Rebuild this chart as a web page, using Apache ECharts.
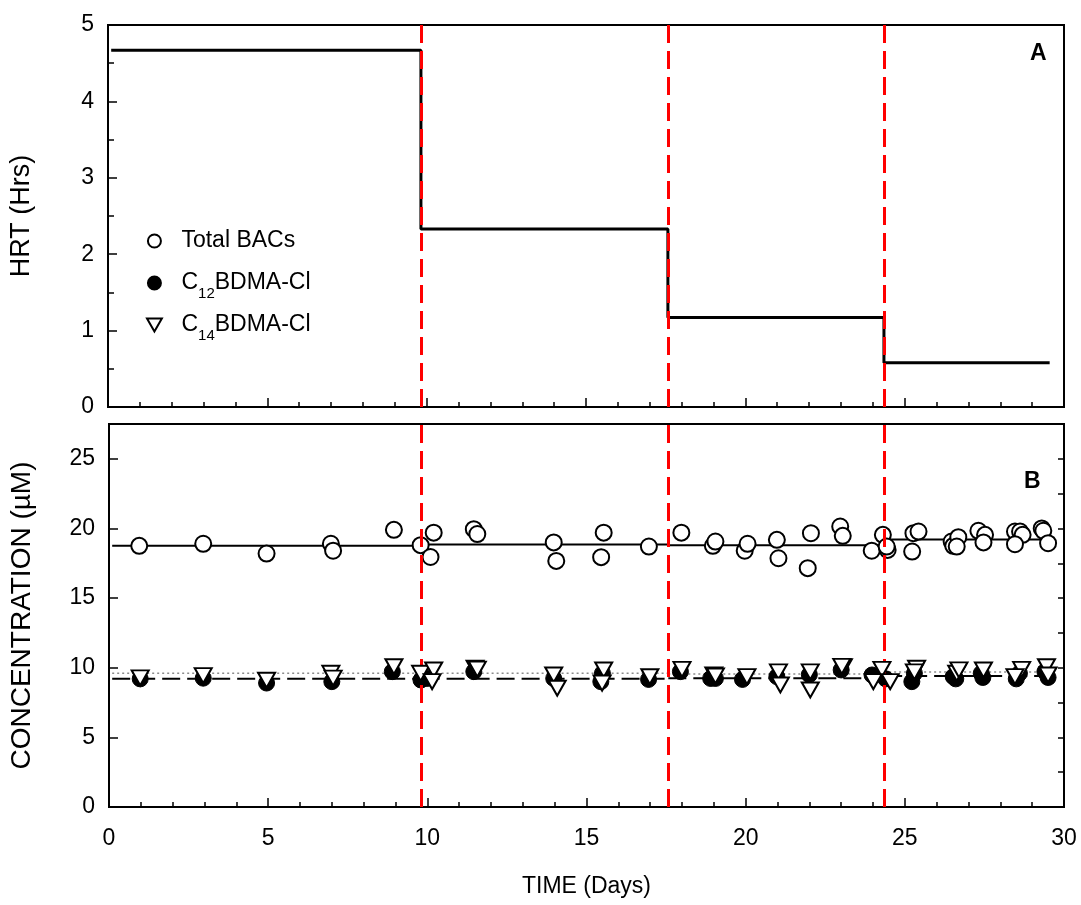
<!DOCTYPE html>
<html>
<head>
<meta charset="utf-8">
<script src="https://cdn.jsdelivr.net/npm/echarts@6/dist/echarts.min.js"></script>
<style>
  html, body { margin: 0; padding: 0; background: #fff; }
  #chart { width: 1081px; height: 905px; }
</style>
</head>
<body>
<div id="chart"></div>
<script>
// phase boundaries (days) where the HRT was changed
const phaseBreaks = [0.1, 9.82, 17.57, 24.35, 29.55]
const hrtLevels = [4.67, 2.33, 1.17, 0.58]

// fitted mean concentration in each phase
const totalFit = [18.75, 18.85, 18.8, 19.2]
const c12Fit = [9.2, 9.2, 9.25, 9.4]
const c14Fit = [9.6, 9.6, 9.55, 9.7]

// measured concentrations [day, µM]
const totalBACs = [
  [0.95, 18.75], [2.96, 18.9], [4.95, 18.2], [6.97, 18.9], [7.04, 18.4], [8.95, 19.9],
  [9.79, 18.8], [10.2, 19.7], [10.1, 17.95], [11.46, 19.95], [11.57, 19.6], [13.97, 19.0],
  [14.05, 17.67], [15.54, 19.7], [15.46, 17.94], [16.96, 18.7], [17.98, 19.7], [18.97, 18.75],
  [19.05, 19.06], [19.97, 18.4], [20.06, 18.9], [20.98, 19.18], [21.03, 17.86], [22.05, 19.66],
  [21.95, 17.15], [22.97, 20.14], [23.05, 19.47], [23.96, 18.4], [24.31, 19.54], [24.46, 18.46],
  [24.43, 18.7], [25.23, 18.34], [25.27, 19.66], [25.43, 19.78], [26.47, 19.06], [26.52, 18.75],
  [26.68, 19.37], [26.63, 18.7], [27.31, 19.83], [27.52, 19.54], [27.47, 19.0], [28.46, 19.78],
  [28.62, 19.78], [28.7, 19.54], [28.46, 18.87], [29.3, 20.0], [29.35, 19.83], [29.5, 18.94]
]
const c12 = [
  [0.98, 9.2], [2.96, 9.25], [4.95, 8.9], [7.0, 9.0], [8.9, 9.72], [9.8, 9.12], [10.0, 9.23],
  [11.46, 9.72], [13.97, 9.23], [15.45, 9.0], [15.5, 9.6], [16.95, 9.16], [17.95, 9.72],
  [18.9, 9.23], [19.05, 9.23], [19.9, 9.16], [20.98, 9.36], [22.0, 9.5], [23.0, 9.84],
  [23.97, 9.48], [24.4, 9.2], [25.22, 9.0], [25.3, 9.6], [26.52, 9.36], [26.6, 9.2],
  [27.4, 9.6], [27.45, 9.3], [28.6, 9.6], [28.5, 9.2], [29.4, 9.72], [29.5, 9.3]
]
const c14 = [
  [0.98, 9.27], [2.96, 9.43], [4.95, 9.1], [6.97, 9.6], [7.04, 9.25], [8.95, 10.07],
  [9.79, 9.6], [10.2, 9.84], [10.15, 9.0], [11.5, 9.96], [11.57, 9.9], [13.97, 9.48],
  [14.08, 8.53], [15.54, 9.84], [15.49, 8.9], [16.99, 9.35], [18.0, 9.88], [19.0, 9.48],
  [19.05, 9.41], [20.04, 9.36], [21.03, 9.7], [21.09, 8.76], [22.03, 9.7], [22.03, 8.4],
  [23.07, 10.07], [23.02, 10.1], [24.01, 9.0], [24.28, 9.88], [24.54, 9.0], [25.37, 9.96],
  [25.3, 9.7], [26.63, 9.6], [26.7, 9.85], [27.47, 9.84], [28.67, 9.88], [28.46, 9.36],
  [29.45, 10.07], [29.5, 9.48]
]

const xTicks = [0, 5, 10, 15, 20, 25, 30]

const font = 'Liberation Sans, Arial, sans-serif'
const triangle = 'path://M0,0L16,0L8,14Z'

// step line through the phases
const stepData = () => {
  const out = []
  hrtLevels.forEach((v, i) => {
    out.push([phaseBreaks[i], v], [phaseBreaks[i + 1], v])
  })
  return out
}

// separate horizontal segments, broken between phases
const segData = (levels) => {
  const out = []
  levels.forEach((v, i) => {
    out.push([phaseBreaks[i], v], [phaseBreaks[i + 1], v], [phaseBreaks[i + 1], '-'])
  })
  return out
}

const xAxisBase = (gridIndex, showLabel) => ({
  type: 'value',
  gridIndex,
  min: xTicks[0],
  max: xTicks[xTicks.length - 1],
  interval: 5,
  axisLine: { show: true, lineStyle: { color: '#000', width: 2 } },
  axisTick: { show: true, inside: true, length: 9, lineStyle: { color: '#000', width: 1.5 } },
  minorTick: { show: true, splitNumber: 5, length: 5, lineStyle: { color: '#000', width: 1.5 } },
  splitLine: { show: false },
  axisLabel: { show: showLabel, color: '#000', fontSize: 23, fontFamily: font, margin: 20 }
})

const chart = echarts.init(document.getElementById('chart'))

const redLine = {
  silent: true,
  symbol: 'none',
  label: { show: false },
  lineStyle: { color: '#ff0000', width: 3, type: [18, 8] },
  data: phaseBreaks.slice(1, 4).map((d) => ({ xAxis: d }))
}

// subscript the carbon number; pad plain names so all rows are the same height
const legendLabel = (name) => /C\d+/.test(name) ? name.replace(/C(\d+)/, 'C{sub|$1}') : name + '{sub| }'

chart.setOption({
  animation: false,
  backgroundColor: '#fff',
  title: [
    { text: 'A', left: 1025, top: 37, textStyle: { fontSize: 23, fontWeight: 'bold', fontFamily: font, color: '#000' } },
    { text: 'B', left: 1019, top: 465, textStyle: { fontSize: 23, fontWeight: 'bold', fontFamily: font, color: '#000' } }
  ],
  legend: {
    orient: 'vertical',
    left: 141,
    top: 224,
    itemWidth: 44,
    itemHeight: 13,
    itemGap: 12,
    data: ['Total BACs', 'C12BDMA-Cl', 'C14BDMA-Cl'],
    formatter: legendLabel,
    textStyle: {
      color: '#000',
      fontSize: 23,
      fontFamily: font,
      lineHeight: 24,
      rich: {
        sub: { fontSize: 15, fontFamily: font, color: '#000', verticalAlign: 'bottom', height: 3, lineHeight: 3 }
      }
    }
  },
  grid: [
    { left: 108, top: 25, right: 17, height: 382, show: true, borderColor: '#000', borderWidth: 2 },
    { left: 108, top: 424, right: 17, height: 383, show: true, borderColor: '#000', borderWidth: 2 }
  ],
  xAxis: [
    xAxisBase(0, false),
    Object.assign(xAxisBase(1, true), {
      name: 'TIME (Days)',
      nameLocation: 'middle',
      nameGap: 68,
      nameTextStyle: { color: '#000', fontSize: 23, fontFamily: font }
    })
  ],
  yAxis: [
    {
      type: 'value',
      gridIndex: 0,
      min: 0,
      max: 5,
      interval: 1,
      name: 'HRT (Hrs)',
      nameLocation: 'middle',
      nameGap: 73,
      nameTextStyle: { color: '#000', fontSize: 27, fontFamily: font },
      axisLine: { show: true, lineStyle: { color: '#000', width: 2 } },
      axisTick: { show: true, inside: true, length: 9, lineStyle: { color: '#000', width: 1.5 } },
      minorTick: { show: true, splitNumber: 2, length: 6, lineStyle: { color: '#000', width: 1.5 } },
      splitLine: { show: false },
      axisLabel: { color: '#000', fontSize: 23, fontFamily: font, margin: 14 }
    },
    {
      type: 'value',
      gridIndex: 1,
      min: 0,
      max: 27.5,
      interval: 5,
      name: 'CONCENTRATION (µM)',
      nameLocation: 'middle',
      nameGap: 73,
      nameTextStyle: { color: '#000', fontSize: 28, fontFamily: font },
      axisLine: { show: true, lineStyle: { color: '#000', width: 2 } },
      axisTick: { show: true, inside: true, length: 9, lineStyle: { color: '#000', width: 1.5 } },
      splitLine: { show: false },
      axisLabel: { color: '#000', fontSize: 23, fontFamily: font, margin: 14, showMaxLabel: false }
    },
    {
      // minor ticks for panel B
      type: 'value',
      gridIndex: 1,
      min: 0,
      max: 27.5,
      interval: 2.5,
      axisLine: { show: false },
      axisTick: { show: true, inside: true, length: 6, lineStyle: { color: '#000', width: 1.5 } },
      splitLine: { show: false },
      axisLabel: { show: false }
    }
  ],
  series: [
    {
      name: 'HRT',
      type: 'line',
      xAxisIndex: 0,
      yAxisIndex: 0,
      data: stepData(),
      symbol: 'none',
      lineStyle: { color: '#000', width: 3 },
      z: 2
    },
    {
      name: 'totalFit',
      type: 'line',
      xAxisIndex: 1,
      yAxisIndex: 1,
      data: segData(totalFit),
      symbol: 'none',
      connectNulls: false,
      lineStyle: { color: '#000', width: 2 },
      z: 1
    },
    {
      name: 'c12Fit',
      type: 'line',
      xAxisIndex: 1,
      yAxisIndex: 1,
      data: segData(c12Fit),
      symbol: 'none',
      connectNulls: false,
      lineStyle: { color: '#000', width: 2, type: [18, 7] },
      z: 1
    },
    {
      name: 'c14Fit',
      type: 'line',
      xAxisIndex: 1,
      yAxisIndex: 1,
      data: segData(c14Fit),
      symbol: 'none',
      connectNulls: false,
      lineStyle: { color: '#8c8c8c', width: 1.5, type: [2, 3] },
      z: 1
    },
    {
      name: 'Total BACs',
      type: 'scatter',
      xAxisIndex: 1,
      yAxisIndex: 1,
      data: totalBACs,
      symbol: 'circle',
      symbolSize: 16,
      itemStyle: { color: '#fff', borderColor: '#000', borderWidth: 2, opacity: 1 },
      z: 3
    },
    {
      name: 'C12BDMA-Cl',
      type: 'scatter',
      xAxisIndex: 1,
      yAxisIndex: 1,
      data: c12,
      symbol: 'circle',
      symbolSize: 16,
      itemStyle: { color: '#000', borderColor: '#000', borderWidth: 1, opacity: 1 },
      z: 4
    },
    {
      name: 'C14BDMA-Cl',
      type: 'scatter',
      xAxisIndex: 1,
      yAxisIndex: 1,
      data: c14,
      symbol: triangle,
      symbolSize: [17, 15],
      itemStyle: { color: '#fff', borderColor: '#000', borderWidth: 2, opacity: 1 },
      z: 5
    },
    {
      name: 'redA',
      type: 'line',
      xAxisIndex: 0,
      yAxisIndex: 0,
      data: [],
      markLine: redLine,
      z: 10
    },
    {
      name: 'redB',
      type: 'line',
      xAxisIndex: 1,
      yAxisIndex: 1,
      data: [],
      markLine: redLine,
      z: 10
    }
  ]
})
</script>
</body>
</html>
